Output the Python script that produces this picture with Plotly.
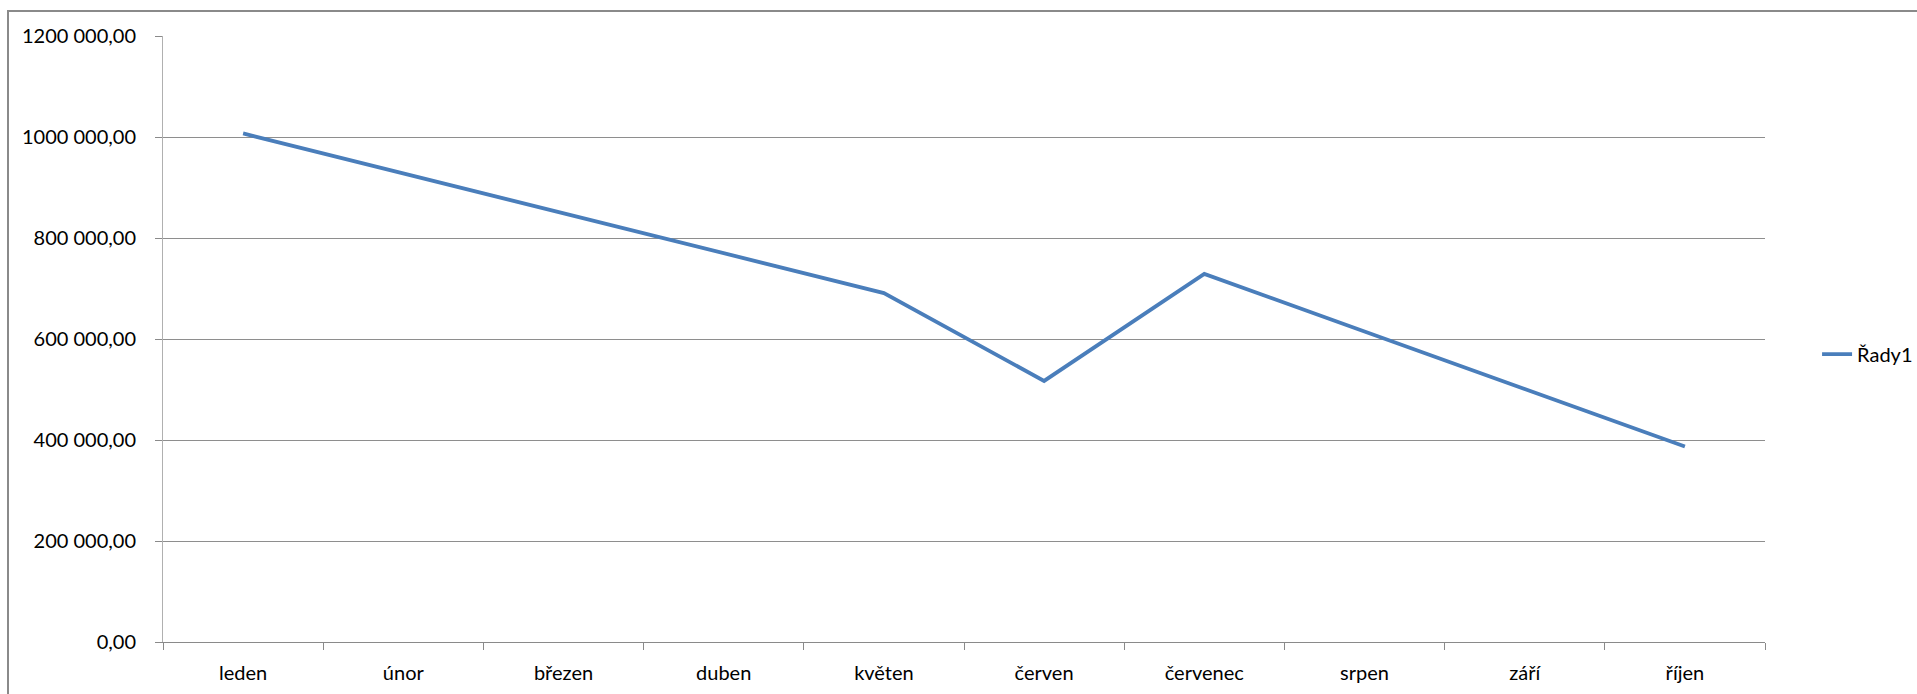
import plotly.graph_objects as go

months = ["leden", "únor", "březen", "duben", "květen", "červen",
          "červenec", "srpen", "září", "říjen"]
values = [1007000, 928000, 849000, 770000, 691000, 517000,
          729000, 615000, 501000, 387000]
series_name = "Řady1"
y_tickvals = [0, 200000, 400000, 600000, 800000, 1000000, 1200000]
y_ticktext = ["0,00", "200 000,00", "400 000,00", "600 000,00",
              "800 000,00", "1000 000,00", "1200 000,00"]

FONT = "Lato"
W, H = 1917, 694
ML, MR, MT, MB = 163, 152, 36, 52

fig = go.Figure()
fig.add_trace(go.Scatter(
    x=months, y=values, mode="lines", name=series_name,
    line=dict(color="#4a7ebb", width=3.8),
))

fig.update_layout(
    width=W, height=H,
    margin=dict(l=ML, r=MR, t=MT, b=MB, pad=0, autoexpand=False),
    paper_bgcolor="white", plot_bgcolor="white",
    font=dict(family=FONT, size=20, color="#000000"),
    showlegend=True,
    legend=dict(x=1.0325, y=0.475, xanchor="left", yanchor="middle",
                font=dict(family=FONT, size=20, color="#000000"),
                bgcolor="rgba(0,0,0,0)", borderwidth=0),
    shapes=[dict(type="rect", xref="paper", yref="paper",
                 x0=(8 - ML) / (W - ML - MR), x1=1.5,
                 y0=-0.5, y1=1 + (MT - 11) / (H - MT - MB),
                 line=dict(color="#8a8a8a", width=2),
                 fillcolor="rgba(0,0,0,0)", layer="below")],
)

fig.update_xaxes(
    type="category", range=[-0.5, len(months) - 0.5],
    showgrid=False, showline=True,
    linecolor="#8a8a8a", linewidth=1,
    ticks="outside", tickson="boundaries", ticklen=7, tickcolor="#8a8a8a",
    tickfont=dict(family=FONT, size=20, color="#000000"),
    ticklabelstandoff=13, zeroline=False,
)
fig.update_yaxes(
    range=[0, 1200000], tickvals=y_tickvals, ticktext=y_ticktext,
    showgrid=True, gridcolor="#8e8e8e", gridwidth=1,
    showline=True, linecolor="#b0b0b0", linewidth=1,
    ticks="outside", ticklen=7, tickcolor="#8a8a8a",
    tickfont=dict(family=FONT, size=20, color="#000000"),
    ticklabelstandoff=15, zeroline=False,
)

fig.write_html("out.html")
